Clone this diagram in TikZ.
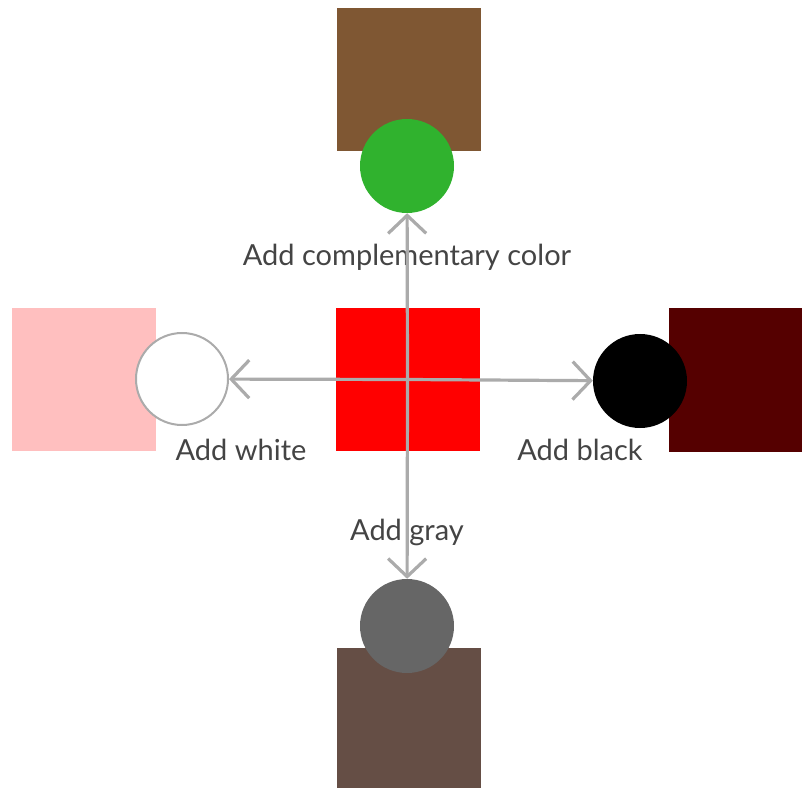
\documentclass[tikz,border=0pt]{standalone}
\usepackage{fontspec}
\setmainfont{Lato}
\usetikzlibrary{arrows.meta}
\definecolor{brownish}{HTML}{7F5733}
\definecolor{compl}{HTML}{30B22E}
\definecolor{pure}{HTML}{FF0000}
\definecolor{tint}{HTML}{FFBFBF}
\definecolor{shade}{HTML}{550000}
\definecolor{tone}{HTML}{654E45}
\definecolor{midgray}{HTML}{666666}
\definecolor{line}{HTML}{ABABAB}
\definecolor{txt}{HTML}{444444}

\begin{document}
\begin{tikzpicture}[x=1pt, y=1pt,
  font=\fontsize{29}{34}\selectfont,
  swatch/.style={minimum width=144pt, minimum height=143pt, inner sep=0pt},
  dot/.style={circle, minimum size=94pt, inner sep=0pt},
  lbl/.style={text=txt, inner sep=1pt},
  a/.style={-{Straight Barb[length=18pt, width=38pt]}, draw=line, line width=3.2pt}]
\useasboundingbox (0,0) rectangle (802,788);
% swatches
\node[swatch, fill=brownish] (top) at (409,708.5) {};
\node[swatch, fill=pure] (base) at (407.5,408.5) {};
\node[swatch, fill=tint] (left) at (83.5,408.5) {};
\node[swatch, fill=shade, minimum width=133pt] (right) at (735.5,408) {};
\node[swatch, fill=tone, minimum height=140pt] (bottom) at (409,70) {};
% added colours
\node[dot, fill=compl] (green) at (407,622) {};
\node[dot, fill=white, draw=line, line width=2pt, minimum size=92pt] (white) at (182,409) {};
\node[dot, fill=black] (black) at (640,407) {};
\node[dot, fill=midgray] (gray) at (407,162) {};
% labels
\node[lbl] (lc) at (407,531) {Add complementary color};
\node[lbl] (lw) at (241,338) {Add white};
\node[lbl] (lb) at (580,338) {Add black};
\node[lbl] (lg) at (407,256) {Add gray};
% arrows
\draw[a] (base.center) -- (green);
\draw[a] (base.center) -- (white);
\draw[a] (base.center) -- (black);
\draw[a] (base.center) -- (gray);
\end{tikzpicture}
\end{document}
